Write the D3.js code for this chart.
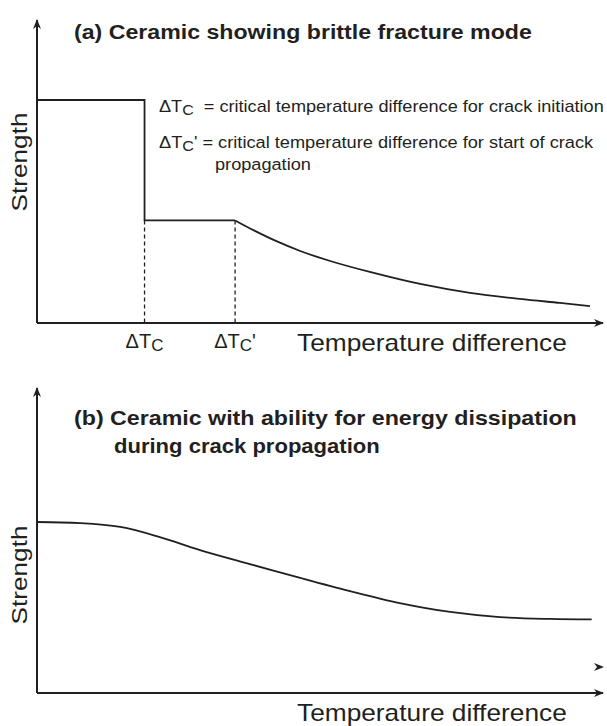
<!DOCTYPE html>
<html>
<head>
<meta charset="utf-8">
<script src="https://cdn.jsdelivr.net/npm/d3@7"></script>
<style>
  html, body { margin: 0; padding: 0; background: #fff; }
  svg text { font-family: "Liberation Sans", Arial, sans-serif; fill: #231f20; }
</style>
</head>
<body>
<svg id="chart" width="607" height="726"></svg>
<script>
// Panel (a): brittle fracture — step drop at ΔTc, plateau until ΔTc', then decay
const stepX = [0, 19, 19, 35];
const stepY = [100, 100, 46, 46];
const decayX = [35, 38.5, 42.2, 46.5, 51.8, 58.8, 67.7, 76.5, 85.3, 92.4, 97.7];
const decayY = [46, 41.3, 36.8, 32.3, 27.8, 22.9, 17.5, 13.5, 10.8, 9.0, 7.6];
const markerX = [19, 35];
const markerPrimes = ["", "'"];

// Panel (b): gradual sigmoid strength loss
const curveBX = [0, 7.6, 14.7, 21.7, 28.8, 37.6, 46.5, 55.3, 64.1, 73, 81.8, 90.6, 98];
const curveBY = [100, 99.4, 97.1, 91.2, 83.6, 75.4, 67.3, 59.6, 52.6, 47.4, 44.4, 43.3, 43];

const titleA = "(a) Ceramic showing brittle fracture mode";
const titleB = ["(b) Ceramic with ability for energy dissipation", "during crack propagation"];
const xTitle = "Temperature difference";
const yTitle = "Strength";
const notes = [
  { sym: "C", prime: "", text: "\u00a0 = critical temperature difference for crack initiation" },
  { sym: "C", prime: "'", text: " = critical temperature difference for start of crack" }
];
const noteCont = "propagation";

const ink = "#231f20";
const svg = d3.select("#chart");

// widen a text element slightly so it spans the given width
function fitWidth(sel, width, anchorX, anchorY, rotate) {
  const k = width / sel.node().getBBox().width;
  if (rotate) {
    sel.attr("transform", `translate(${anchorX},${anchorY}) rotate(-90) scale(${k},1)`);
  } else {
    sel.attr("transform", `translate(${anchorX},${anchorY}) scale(${k},1) translate(${-anchorX},${-anchorY})`);
  }
  return sel;
}

const defs = svg.append("defs");
defs.append("marker")
  .attr("id", "arrow").attr("viewBox", "0 0 10 10")
  .attr("refX", 9).attr("refY", 5)
  .attr("markerWidth", 10).attr("markerHeight", 10)
  .attr("markerUnits", "userSpaceOnUse")
  .attr("orient", "auto")
  .append("path").attr("d", "M0,1 L10,5 L0,9 L3,5 Z").attr("fill", ink);

// shared horizontal scale
const x = d3.scaleLinear().domain([0, 100]).range([37, 603]);
const line = (sx, sy, curve) => d3.line().x(d => sx(d[0])).y(d => sy(d[1])).curve(curve);

// ---------- Panel (a) ----------
const yA = d3.scaleLinear().domain([0, 100]).range([323, 100]);
const gA = svg.append("g");

gA.append("line").attr("x1", x(0)).attr("x2", x(0))
  .attr("y1", yA(0)).attr("y2", 20)
  .attr("stroke", ink).attr("stroke-width", 2).attr("marker-end", "url(#arrow)");
gA.append("line").attr("x1", x(0)).attr("x2", x(100))
  .attr("y1", yA(0)).attr("y2", yA(0))
  .attr("stroke", ink).attr("stroke-width", 2).attr("marker-end", "url(#arrow)");

gA.append("path")
  .datum(stepX.map((v, i) => [v, stepY[i]]))
  .attr("d", line(x, yA, d3.curveLinear))
  .attr("fill", "none").attr("stroke", ink).attr("stroke-width", 1.8);
gA.append("path")
  .datum(decayX.map((v, i) => [v, decayY[i]]))
  .attr("d", line(x, yA, d3.curveCatmullRom.alpha(0.5)))
  .attr("fill", "none").attr("stroke", ink).attr("stroke-width", 1.8);

// dashed drop lines to the axis
gA.selectAll("line.drop").data(markerX).join("line")
  .attr("class", "drop")
  .attr("x1", d => x(d)).attr("x2", d => x(d))
  .attr("y1", yA(46)).attr("y2", yA(0))
  .attr("stroke", ink).attr("stroke-width", 1.3).attr("stroke-dasharray", "4,3");

// ΔTc labels under the axis
const mk = gA.selectAll("text.mk").data(markerX).join("text")
  .attr("class", "mk")
  .attr("x", d => x(d)).attr("y", 348)
  .attr("text-anchor", "middle").attr("font-size", 20);
mk.append("tspan").text("\u0394T");
mk.append("tspan").attr("font-size", 17).attr("dy", 3).text("C");
mk.append("tspan").attr("dy", -3).text((d, i) => markerPrimes[i]);

fitWidth(gA.append("text").attr("x", 297).attr("y", 351)
  .attr("font-size", 23).text(xTitle), 270, 297, 351);

fitWidth(gA.append("text")
  .attr("text-anchor", "middle").attr("font-size", 22).text(yTitle), 99, 27, 162, true);

fitWidth(gA.append("text").attr("x", 74).attr("y", 39)
  .attr("font-size", 21).attr("font-weight", "bold").text(titleA), 458, 74, 39);

// definitions of ΔTc and ΔTc'
const noteY = [112, 148];
const noteW = [445, 435];
notes.forEach((n, i) => {
  const t = gA.append("text").attr("x", 159).attr("y", noteY[i]).attr("font-size", 17);
  t.append("tspan").text("\u0394T");
  t.append("tspan").attr("font-size", 15).attr("dy", 3).text(n.sym);
  t.append("tspan").attr("dy", -3).text(n.prime + n.text);
  fitWidth(t, noteW[i], 159, noteY[i]);
});
fitWidth(gA.append("text").attr("x", 215).attr("y", 170).attr("font-size", 17)
  .text(noteCont), 96, 215, 170);

// ---------- Panel (b) ----------
const yB = d3.scaleLinear().domain([0, 100]).range([693, 522]);
const gB = svg.append("g");

gB.append("line").attr("x1", x(0)).attr("x2", x(0))
  .attr("y1", yB(0)).attr("y2", 388)
  .attr("stroke", ink).attr("stroke-width", 2).attr("marker-end", "url(#arrow)");
gB.append("line").attr("x1", x(0)).attr("x2", x(100))
  .attr("y1", yB(0)).attr("y2", yB(0))
  .attr("stroke", ink).attr("stroke-width", 2).attr("marker-end", "url(#arrow)");
// stray arrowhead above the axis end
gB.append("line").attr("x1", x(98)).attr("x2", x(100))
  .attr("y1", 667).attr("y2", 667)
  .attr("stroke", "none").attr("marker-end", "url(#arrow)");

gB.append("path")
  .datum(curveBX.map((v, i) => [v, curveBY[i]]))
  .attr("d", line(x, yB, d3.curveCatmullRom.alpha(0.5)))
  .attr("fill", "none").attr("stroke", ink).attr("stroke-width", 1.8);

fitWidth(gB.append("text").attr("x", 297).attr("y", 721)
  .attr("font-size", 23).text(xTitle), 270, 297, 721);

fitWidth(gB.append("text")
  .attr("text-anchor", "middle").attr("font-size", 22).text(yTitle), 99, 27, 575, true);

fitWidth(gB.append("text").attr("x", 74).attr("y", 425)
  .attr("font-size", 21).attr("font-weight", "bold").text(titleB[0]), 503, 74, 425);
fitWidth(gB.append("text").attr("x", 114).attr("y", 453)
  .attr("font-size", 21).attr("font-weight", "bold").text(titleB[1]), 266, 114, 453);
</script>
</body>
</html>
